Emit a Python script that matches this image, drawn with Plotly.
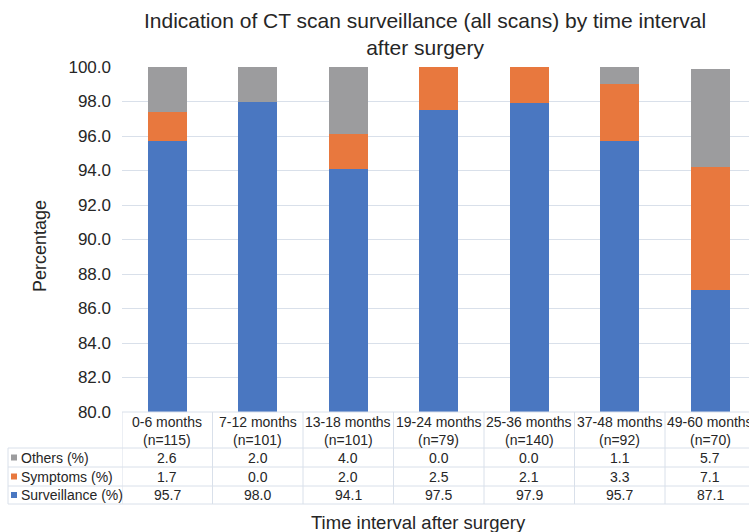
import plotly.graph_objects as go

# Time intervals after surgery and number of scans in each
intervals = ["0-6 months", "7-12 months", "13-18 months", "19-24 months",
             "25-36 months", "37-48 months", "49-60 months"]
n_scans = [115, 101, 101, 79, 140, 92, 70]

# Indication shares (%) per interval
surveillance = [95.7, 98.0, 94.1, 97.5, 97.9, 95.7, 87.1]
symptoms = [1.7, 0.0, 2.0, 2.5, 2.1, 3.3, 7.1]
others = [2.6, 2.0, 4.0, 0.0, 0.0, 1.1, 5.7]

series = [
    ("Surveillance (%)", surveillance, "#4a77c1"),
    ("Symptoms (%)", symptoms, "#e8783e"),
    ("Others (%)", others, "#9c9c9e"),
]

W, H = 749, 532
L, R, T, B = 122, 0, 67, 120
plot_w = W - L - R
plot_h = H - T - B
col_w = 90.5  # pixel width of one category
FONT = "Liberation Sans"
TXT = "#262626"
GRID = "#d9e0ea"


def px(X):
    return (X - L) / plot_w


def py(Y):
    return (H - B - Y) / plot_h


def note(x, y, text, size=14, xref="paper", xanchor="center", **kw):
    return dict(x=x, y=y, xref=xref, yref="paper", text=text, showarrow=False,
                xanchor=xanchor, yanchor="middle",
                font=dict(size=size, color=TXT, family=FONT), **kw)


xs = list(range(len(intervals)))
fig = go.Figure()
for name, vals, color in series:
    fig.add_trace(go.Bar(x=xs, y=vals, name=name, marker_color=color,
                         marker_line_width=0, width=0.43, showlegend=False))

fig.update_layout(
    barmode="stack",
    width=W, height=H,
    margin=dict(l=L, r=R, t=T, b=B, pad=0),
    plot_bgcolor="white", paper_bgcolor="white",
    font=dict(family=FONT, color=TXT),
)
fig.update_xaxes(range=[-0.5, -0.5 + plot_w / col_w], showticklabels=False,
                 showgrid=False, zeroline=False, showline=False, ticks="")
fig.update_yaxes(range=[80, 100], dtick=2, tickformat=".1f",
                 tickfont=dict(size=17, color=TXT, family=FONT),
                 gridcolor=GRID, gridwidth=1, zeroline=False, showline=False,
                 ticks="", ticklabelstandoff=10)

annotations = []
shapes = []

# chart title
annotations.append(note(px(425), py(34),
                        "Indication of CT scan surveillance (all scans) by time interval<br>after surgery",
                        size=21))

# Data table below the bars
row_tops = [412, 448, 467, 486, 504]
table_left = 8
line = dict(color=GRID, width=1)
# horizontal rules
shapes.append(dict(type="line", xref="paper", yref="paper",
                   x0=px(L), x1=1.02, y0=py(row_tops[0]), y1=py(row_tops[0]), line=line))
for Y in row_tops[1:]:
    shapes.append(dict(type="line", xref="paper", yref="paper",
                       x0=px(table_left), x1=1.02, y0=py(Y), y1=py(Y), line=line))
# vertical rules
shapes.append(dict(type="line", xref="paper", yref="paper",
                   x0=px(table_left), x1=px(table_left), y0=py(row_tops[1]), y1=py(row_tops[-1]), line=line))
for i in range(len(intervals)):
    shapes.append(dict(type="line", xref="x", yref="paper",
                       x0=i - 0.5, x1=i - 0.5, y0=py(row_tops[0]), y1=py(row_tops[-1]), line=line))

# header cells
for i, (lab, n) in enumerate(zip(intervals, n_scans)):
    annotations.append(note(i, py(422), lab, xref="x"))
    annotations.append(note(i, py(440), f"(n={n})", xref="x"))

# value rows with legend keys
for r, (name, vals, color) in enumerate(reversed(series)):
    yc = (row_tops[r + 1] + row_tops[r + 2]) / 2
    shapes.append(dict(type="rect", xref="paper", yref="paper",
                       x0=px(11), x1=px(17), y0=py(yc + 3), y1=py(yc - 3),
                       fillcolor=color, line=dict(width=0)))
    annotations.append(note(px(19), py(yc), name, xanchor="left"))
    for i, v in enumerate(vals):
        annotations.append(note(i, py(yc), f"{v:.1f}", xref="x"))

# axis titles
annotations.append(note(px(418), py(522), "Time interval after surgery", size=18.5))
annotations.append(note(px(40), py(246), "Percentage", size=18, textangle=-90))

fig.update_layout(annotations=annotations, shapes=shapes)
fig.write_html("out.html")
